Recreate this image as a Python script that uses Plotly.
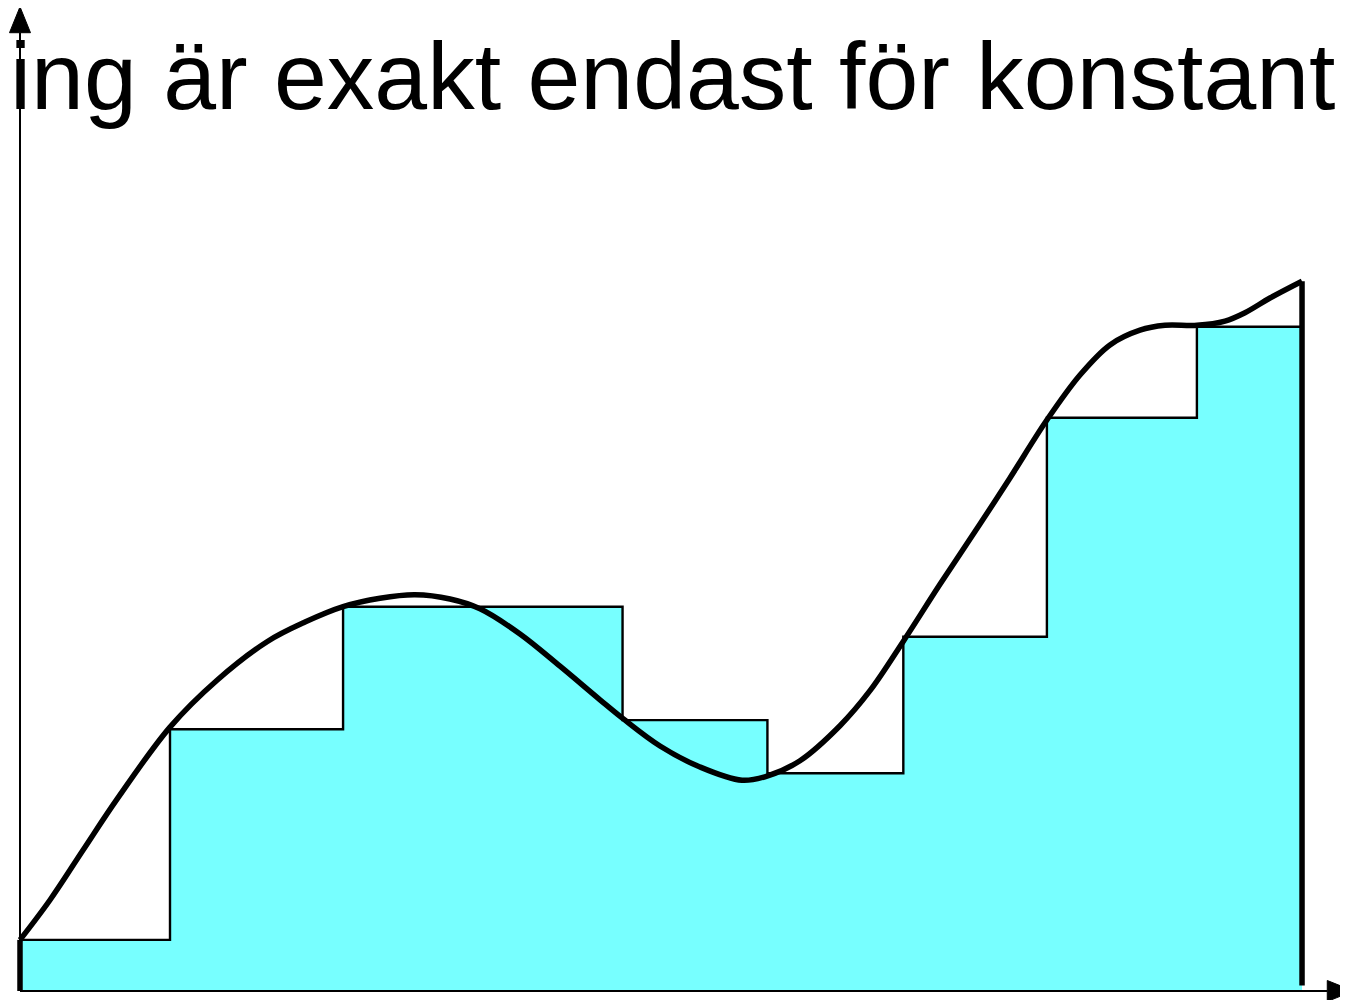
import plotly.graph_objects as go

# --- data (abstract units) ---
title_text = "ing är exakt endast för konstant"

# partition points and left-endpoint rectangle heights
step_x = [0, 1.17, 2.52, 4.70, 5.83, 6.89, 8.01, 9.18, 10.0]
step_y = [0.73, 3.74, 5.49, 3.87, 3.11, 5.06, 8.19, 9.49, 9.49]

# the smooth function
curve_x = [0, 0.234, 0.491, 0.757, 1.170, 1.537, 1.927, 2.223, 2.520, 2.808,
           3.081, 3.354, 3.588, 3.900, 4.212, 4.524, 4.704, 4.992, 5.304, 5.632,
           5.827, 6.084, 6.396, 6.630, 6.888, 7.176, 7.488, 7.722, 8.011, 8.268,
           8.502, 8.736, 8.931, 9.181, 9.399, 9.555, 9.750, 10.0]
curve_y = [0.73, 1.30, 2.01, 2.74, 3.77, 4.44, 4.99, 5.27, 5.49, 5.61,
           5.66, 5.60, 5.46, 5.10, 4.64, 4.16, 3.89, 3.50, 3.20, 3.01,
           3.07, 3.29, 3.79, 4.29, 4.99, 5.81, 6.67, 7.33, 8.16, 8.80,
           9.23, 9.44, 9.51, 9.51, 9.57, 9.69, 9.90, 10.14]

x_axis_end = 10.40
y_axis_end = 14.06

x_range = [-0.0936, 10.421]
y_range = [-0.243, 14.043]

# arrowhead geometry (in axis units)
x_head_len, x_head_half = 0.203, 0.15
y_head_len, y_head_half = 0.37, 0.082

fig = go.Figure()

# rectangles (step function filled to the x-axis)
fig.add_trace(go.Scatter(
    x=step_x, y=step_y, mode="lines", line=dict(shape="hv", color="black", width=2.4),
    fill="tozeroy", fillcolor="rgb(119,255,255)", hoverinfo="skip", showlegend=False))

# axis lines
fig.add_trace(go.Scatter(
    x=[0, 0, None, 0, x_axis_end - x_head_len], y=[0, y_axis_end - y_head_len, None, 0, 0],
    mode="lines", line=dict(color="black", width=2), hoverinfo="skip", showlegend=False))

# the curve
fig.add_trace(go.Scatter(
    x=curve_x, y=curve_y, mode="lines",
    line=dict(shape="spline", smoothing=1.0, color="black", width=5.5),
    hoverinfo="skip", showlegend=False))

# thick region edges at both ends
fig.add_trace(go.Scatter(
    x=[curve_x[0], curve_x[0], None, curve_x[-1], curve_x[-1]],
    y=[0, curve_y[0], None, curve_y[-1], 0.08], mode="lines",
    line=dict(color="black", width=5.5), hoverinfo="skip", showlegend=False))

# arrowheads of the axes
xb = x_axis_end - x_head_len
yb = y_axis_end - y_head_len
shapes = [
    dict(type="path", xref="x", yref="y",
         path=f"M {xb},{x_head_half} L {x_axis_end},0 L {xb},{-x_head_half} Z",
         fillcolor="black", line=dict(color="black", width=1)),
    dict(type="path", xref="x", yref="y",
         path=f"M {-y_head_half},{yb} L 0,{y_axis_end} L {y_head_half},{yb} Z",
         fillcolor="black", line=dict(color="black", width=1)),
]

annotations = [
    dict(x=0.0, y=0.987, xref="paper", yref="paper", xanchor="left", yanchor="top",
         text=title_text, showarrow=False,
         font=dict(family="Liberation Sans, Arial, Helvetica, sans-serif", size=95, color="black")),
]

fig.update_layout(
    width=1348, height=1000,
    margin=dict(l=0, r=0, t=0, b=0),
    paper_bgcolor="white", plot_bgcolor="white",
    xaxis=dict(range=x_range, visible=False, fixedrange=True),
    yaxis=dict(range=y_range, visible=False, fixedrange=True),
    shapes=shapes,
    annotations=annotations,
    showlegend=False,
)

fig.write_html("out.html")
